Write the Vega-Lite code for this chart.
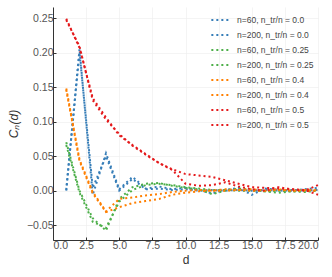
{
  "$schema": "https://vega.github.io/schema/vega-lite/v6.json",
  "width": 265,
  "height": 233,
  "autosize": "none",
  "padding": {"left": 53, "top": 7, "right": 14, "bottom": 37},
  "background": "white",
  "config": {
    "view": {"stroke": null},
    "font": "Liberation Sans",
    "axis": {
      "domainColor": "#333333",
      "domainWidth": 1,
      "gridColor": "#ececec",
      "gridWidth": 0.6,
      "tickColor": "#333333",
      "tickSize": -3,
      "labelColor": "#555555",
      "labelFontSize": 10.5,
      "titleColor": "#333333",
      "titleFontWeight": "normal",
      "titleFontSize": 12
    }
  },
  "data": {"values": [
    {"s": "n=60, n_tr/n = 0.0", "d": 1, "c": 0.0},
    {"s": "n=60, n_tr/n = 0.0", "d": 2, "c": 0.205},
    {"s": "n=60, n_tr/n = 0.0", "d": 3, "c": -0.006},
    {"s": "n=60, n_tr/n = 0.0", "d": 4, "c": 0.054},
    {"s": "n=60, n_tr/n = 0.0", "d": 5, "c": 0.002},
    {"s": "n=60, n_tr/n = 0.0", "d": 6, "c": 0.02},
    {"s": "n=60, n_tr/n = 0.0", "d": 7, "c": 0.003},
    {"s": "n=60, n_tr/n = 0.0", "d": 8, "c": 0.006},
    {"s": "n=60, n_tr/n = 0.0", "d": 9, "c": 0.002},
    {"s": "n=60, n_tr/n = 0.0", "d": 10, "c": 0.004},
    {"s": "n=60, n_tr/n = 0.0", "d": 11, "c": 0.001},
    {"s": "n=60, n_tr/n = 0.0", "d": 12, "c": -0.004},
    {"s": "n=60, n_tr/n = 0.0", "d": 13, "c": 0.001},
    {"s": "n=60, n_tr/n = 0.0", "d": 14, "c": 0.004},
    {"s": "n=60, n_tr/n = 0.0", "d": 15, "c": -0.006},
    {"s": "n=60, n_tr/n = 0.0", "d": 16, "c": 0.003},
    {"s": "n=60, n_tr/n = 0.0", "d": 17, "c": 0.001},
    {"s": "n=60, n_tr/n = 0.0", "d": 18, "c": 0.0},
    {"s": "n=60, n_tr/n = 0.0", "d": 19, "c": 0.002},
    {"s": "n=60, n_tr/n = 0.0", "d": 20, "c": 0.004},
    {"s": "n=200, n_tr/n = 0.0", "d": 1, "c": 0.001},
    {"s": "n=200, n_tr/n = 0.0", "d": 2, "c": 0.2},
    {"s": "n=200, n_tr/n = 0.0", "d": 3, "c": 0.004},
    {"s": "n=200, n_tr/n = 0.0", "d": 4, "c": 0.05},
    {"s": "n=200, n_tr/n = 0.0", "d": 5, "c": 0.0},
    {"s": "n=200, n_tr/n = 0.0", "d": 6, "c": 0.017},
    {"s": "n=200, n_tr/n = 0.0", "d": 7, "c": 0.002},
    {"s": "n=200, n_tr/n = 0.0", "d": 8, "c": 0.003},
    {"s": "n=200, n_tr/n = 0.0", "d": 9, "c": 0.001},
    {"s": "n=200, n_tr/n = 0.0", "d": 10, "c": 0.002},
    {"s": "n=200, n_tr/n = 0.0", "d": 11, "c": 0.0},
    {"s": "n=200, n_tr/n = 0.0", "d": 12, "c": 0.001},
    {"s": "n=200, n_tr/n = 0.0", "d": 13, "c": 0.0},
    {"s": "n=200, n_tr/n = 0.0", "d": 14, "c": 0.001},
    {"s": "n=200, n_tr/n = 0.0", "d": 15, "c": 0.0},
    {"s": "n=200, n_tr/n = 0.0", "d": 16, "c": 0.001},
    {"s": "n=200, n_tr/n = 0.0", "d": 17, "c": 0.0},
    {"s": "n=200, n_tr/n = 0.0", "d": 18, "c": 0.001},
    {"s": "n=200, n_tr/n = 0.0", "d": 19, "c": 0.0},
    {"s": "n=200, n_tr/n = 0.0", "d": 20, "c": 0.001},
    {"s": "n=60, n_tr/n = 0.25", "d": 1, "c": 0.07},
    {"s": "n=60, n_tr/n = 0.25", "d": 2, "c": 0.0},
    {"s": "n=60, n_tr/n = 0.25", "d": 3, "c": -0.04},
    {"s": "n=60, n_tr/n = 0.25", "d": 4, "c": -0.058},
    {"s": "n=60, n_tr/n = 0.25", "d": 5, "c": -0.012},
    {"s": "n=60, n_tr/n = 0.25", "d": 6, "c": 0.005},
    {"s": "n=60, n_tr/n = 0.25", "d": 7, "c": 0.01},
    {"s": "n=60, n_tr/n = 0.25", "d": 8, "c": 0.011},
    {"s": "n=60, n_tr/n = 0.25", "d": 9, "c": 0.007},
    {"s": "n=60, n_tr/n = 0.25", "d": 10, "c": 0.004},
    {"s": "n=60, n_tr/n = 0.25", "d": 11, "c": 0.002},
    {"s": "n=60, n_tr/n = 0.25", "d": 12, "c": -0.005},
    {"s": "n=60, n_tr/n = 0.25", "d": 13, "c": 0.0},
    {"s": "n=60, n_tr/n = 0.25", "d": 14, "c": 0.003},
    {"s": "n=60, n_tr/n = 0.25", "d": 15, "c": 0.001},
    {"s": "n=60, n_tr/n = 0.25", "d": 16, "c": -0.001},
    {"s": "n=60, n_tr/n = 0.25", "d": 17, "c": -0.003},
    {"s": "n=60, n_tr/n = 0.25", "d": 18, "c": -0.001},
    {"s": "n=60, n_tr/n = 0.25", "d": 19, "c": -0.002},
    {"s": "n=60, n_tr/n = 0.25", "d": 20, "c": 0.0},
    {"s": "n=200, n_tr/n = 0.25", "d": 1, "c": 0.066},
    {"s": "n=200, n_tr/n = 0.25", "d": 2, "c": -0.003},
    {"s": "n=200, n_tr/n = 0.25", "d": 3, "c": -0.045},
    {"s": "n=200, n_tr/n = 0.25", "d": 4, "c": -0.054},
    {"s": "n=200, n_tr/n = 0.25", "d": 5, "c": -0.016},
    {"s": "n=200, n_tr/n = 0.25", "d": 6, "c": 0.001},
    {"s": "n=200, n_tr/n = 0.25", "d": 7, "c": 0.008},
    {"s": "n=200, n_tr/n = 0.25", "d": 8, "c": 0.01},
    {"s": "n=200, n_tr/n = 0.25", "d": 9, "c": 0.008},
    {"s": "n=200, n_tr/n = 0.25", "d": 10, "c": 0.005},
    {"s": "n=200, n_tr/n = 0.25", "d": 11, "c": 0.003},
    {"s": "n=200, n_tr/n = 0.25", "d": 12, "c": 0.001},
    {"s": "n=200, n_tr/n = 0.25", "d": 13, "c": 0.001},
    {"s": "n=200, n_tr/n = 0.25", "d": 14, "c": 0.0},
    {"s": "n=200, n_tr/n = 0.25", "d": 15, "c": 0.0},
    {"s": "n=200, n_tr/n = 0.25", "d": 16, "c": -0.001},
    {"s": "n=200, n_tr/n = 0.25", "d": 17, "c": 0.0},
    {"s": "n=200, n_tr/n = 0.25", "d": 18, "c": -0.001},
    {"s": "n=200, n_tr/n = 0.25", "d": 19, "c": 0.0},
    {"s": "n=200, n_tr/n = 0.25", "d": 20, "c": 0.0},
    {"s": "n=60, n_tr/n = 0.4", "d": 1, "c": 0.148},
    {"s": "n=60, n_tr/n = 0.4", "d": 2, "c": 0.045},
    {"s": "n=60, n_tr/n = 0.4", "d": 3, "c": -0.002},
    {"s": "n=60, n_tr/n = 0.4", "d": 4, "c": -0.03},
    {"s": "n=60, n_tr/n = 0.4", "d": 5, "c": -0.012},
    {"s": "n=60, n_tr/n = 0.4", "d": 6, "c": -0.01},
    {"s": "n=60, n_tr/n = 0.4", "d": 7, "c": -0.007},
    {"s": "n=60, n_tr/n = 0.4", "d": 8, "c": -0.005},
    {"s": "n=60, n_tr/n = 0.4", "d": 9, "c": -0.002},
    {"s": "n=60, n_tr/n = 0.4", "d": 10, "c": 0.0},
    {"s": "n=60, n_tr/n = 0.4", "d": 11, "c": 0.001},
    {"s": "n=60, n_tr/n = 0.4", "d": 12, "c": 0.0},
    {"s": "n=60, n_tr/n = 0.4", "d": 13, "c": 0.002},
    {"s": "n=60, n_tr/n = 0.4", "d": 14, "c": 0.001},
    {"s": "n=60, n_tr/n = 0.4", "d": 15, "c": 0.002},
    {"s": "n=60, n_tr/n = 0.4", "d": 16, "c": 0.0},
    {"s": "n=60, n_tr/n = 0.4", "d": 17, "c": 0.002},
    {"s": "n=60, n_tr/n = 0.4", "d": 18, "c": 0.0},
    {"s": "n=60, n_tr/n = 0.4", "d": 19, "c": 0.001},
    {"s": "n=60, n_tr/n = 0.4", "d": 20, "c": 0.001},
    {"s": "n=200, n_tr/n = 0.4", "d": 1, "c": 0.146},
    {"s": "n=200, n_tr/n = 0.4", "d": 2, "c": 0.043},
    {"s": "n=200, n_tr/n = 0.4", "d": 3, "c": -0.004},
    {"s": "n=200, n_tr/n = 0.4", "d": 4, "c": -0.031},
    {"s": "n=200, n_tr/n = 0.4", "d": 5, "c": -0.024},
    {"s": "n=200, n_tr/n = 0.4", "d": 6, "c": -0.018},
    {"s": "n=200, n_tr/n = 0.4", "d": 7, "c": -0.015},
    {"s": "n=200, n_tr/n = 0.4", "d": 8, "c": -0.012},
    {"s": "n=200, n_tr/n = 0.4", "d": 9, "c": -0.006},
    {"s": "n=200, n_tr/n = 0.4", "d": 10, "c": -0.003},
    {"s": "n=200, n_tr/n = 0.4", "d": 11, "c": -0.001},
    {"s": "n=200, n_tr/n = 0.4", "d": 12, "c": 0.0},
    {"s": "n=200, n_tr/n = 0.4", "d": 13, "c": 0.0},
    {"s": "n=200, n_tr/n = 0.4", "d": 14, "c": 0.001},
    {"s": "n=200, n_tr/n = 0.4", "d": 15, "c": 0.0},
    {"s": "n=200, n_tr/n = 0.4", "d": 16, "c": 0.0},
    {"s": "n=200, n_tr/n = 0.4", "d": 17, "c": 0.001},
    {"s": "n=200, n_tr/n = 0.4", "d": 18, "c": 0.0},
    {"s": "n=200, n_tr/n = 0.4", "d": 19, "c": 0.0},
    {"s": "n=200, n_tr/n = 0.4", "d": 20, "c": 0.0},
    {"s": "n=60, n_tr/n = 0.5", "d": 1, "c": 0.247},
    {"s": "n=60, n_tr/n = 0.5", "d": 2, "c": 0.209},
    {"s": "n=60, n_tr/n = 0.5", "d": 3, "c": 0.131},
    {"s": "n=60, n_tr/n = 0.5", "d": 4, "c": 0.103},
    {"s": "n=60, n_tr/n = 0.5", "d": 5, "c": 0.082},
    {"s": "n=60, n_tr/n = 0.5", "d": 6, "c": 0.065},
    {"s": "n=60, n_tr/n = 0.5", "d": 7, "c": 0.052},
    {"s": "n=60, n_tr/n = 0.5", "d": 8, "c": 0.04},
    {"s": "n=60, n_tr/n = 0.5", "d": 9, "c": 0.03},
    {"s": "n=60, n_tr/n = 0.5", "d": 10, "c": 0.01},
    {"s": "n=60, n_tr/n = 0.5", "d": 11, "c": 0.007},
    {"s": "n=60, n_tr/n = 0.5", "d": 12, "c": 0.008},
    {"s": "n=60, n_tr/n = 0.5", "d": 13, "c": 0.012},
    {"s": "n=60, n_tr/n = 0.5", "d": 14, "c": 0.006},
    {"s": "n=60, n_tr/n = 0.5", "d": 15, "c": 0.002},
    {"s": "n=60, n_tr/n = 0.5", "d": 16, "c": 0.0},
    {"s": "n=60, n_tr/n = 0.5", "d": 17, "c": 0.005},
    {"s": "n=60, n_tr/n = 0.5", "d": 18, "c": 0.002},
    {"s": "n=60, n_tr/n = 0.5", "d": 19, "c": 0.0},
    {"s": "n=60, n_tr/n = 0.5", "d": 20, "c": 0.008},
    {"s": "n=200, n_tr/n = 0.5", "d": 1, "c": 0.249},
    {"s": "n=200, n_tr/n = 0.5", "d": 2, "c": 0.207},
    {"s": "n=200, n_tr/n = 0.5", "d": 3, "c": 0.134},
    {"s": "n=200, n_tr/n = 0.5", "d": 4, "c": 0.106},
    {"s": "n=200, n_tr/n = 0.5", "d": 5, "c": 0.08},
    {"s": "n=200, n_tr/n = 0.5", "d": 6, "c": 0.066},
    {"s": "n=200, n_tr/n = 0.5", "d": 7, "c": 0.053},
    {"s": "n=200, n_tr/n = 0.5", "d": 8, "c": 0.04},
    {"s": "n=200, n_tr/n = 0.5", "d": 9, "c": 0.031},
    {"s": "n=200, n_tr/n = 0.5", "d": 10, "c": 0.024},
    {"s": "n=200, n_tr/n = 0.5", "d": 11, "c": 0.022},
    {"s": "n=200, n_tr/n = 0.5", "d": 12, "c": 0.02},
    {"s": "n=200, n_tr/n = 0.5", "d": 13, "c": 0.015},
    {"s": "n=200, n_tr/n = 0.5", "d": 14, "c": 0.01},
    {"s": "n=200, n_tr/n = 0.5", "d": 15, "c": 0.005},
    {"s": "n=200, n_tr/n = 0.5", "d": 16, "c": 0.004},
    {"s": "n=200, n_tr/n = 0.5", "d": 17, "c": 0.003},
    {"s": "n=200, n_tr/n = 0.5", "d": 18, "c": 0.002},
    {"s": "n=200, n_tr/n = 0.5", "d": 19, "c": 0.001},
    {"s": "n=200, n_tr/n = 0.5", "d": 20, "c": -0.006}
  ]},
  "mark": {"type": "line", "strokeWidth": 2, "strokeDash": [2, 3]},
  "encoding": {
    "x": {
      "field": "d", "type": "quantitative",
      "scale": {"domain": [0, 20], "nice": false, "zero": false},
      "axis": {"values": [0, 2.5, 5, 7.5, 10, 12.5, 15, 17.5, 20], "format": ".1f", "title": "d", "titlePadding": 4, "labelPadding": 3}
    },
    "y": {
      "field": "c", "type": "quantitative",
      "scale": {"domain": [-0.0715, 0.266], "nice": false, "zero": false},
      "axis": {"values": [-0.05, 0, 0.05, 0.1, 0.15, 0.2, 0.25], "format": ".2f", "title": "Cₙ(d)", "titleFontStyle": "italic", "titlePadding": 6, "labelPadding": 3}
    },
    "color": {
      "field": "s", "type": "nominal", "sort": null,
      "scale": {
        "domain": ["n=60, n_tr/n = 0.0", "n=200, n_tr/n = 0.0", "n=60, n_tr/n = 0.25", "n=200, n_tr/n = 0.25", "n=60, n_tr/n = 0.4", "n=200, n_tr/n = 0.4", "n=60, n_tr/n = 0.5", "n=200, n_tr/n = 0.5"],
        "range": ["#377eb8", "#377eb8", "#4daf4a", "#4daf4a", "#ff7f00", "#ff7f00", "#e41a1c", "#e41a1c"]
      },
      "legend": {
        "title": null, "orient": "none", "legendX": 157, "legendY": 3,
        "symbolType": "stroke", "symbolDash": [2, 3], "symbolStrokeWidth": 2, "symbolSize": 300,
        "labelFontSize": 8.5, "labelColor": "#444444", "rowPadding": -5, "labelOffset": 7
      }
    }
  }
}
